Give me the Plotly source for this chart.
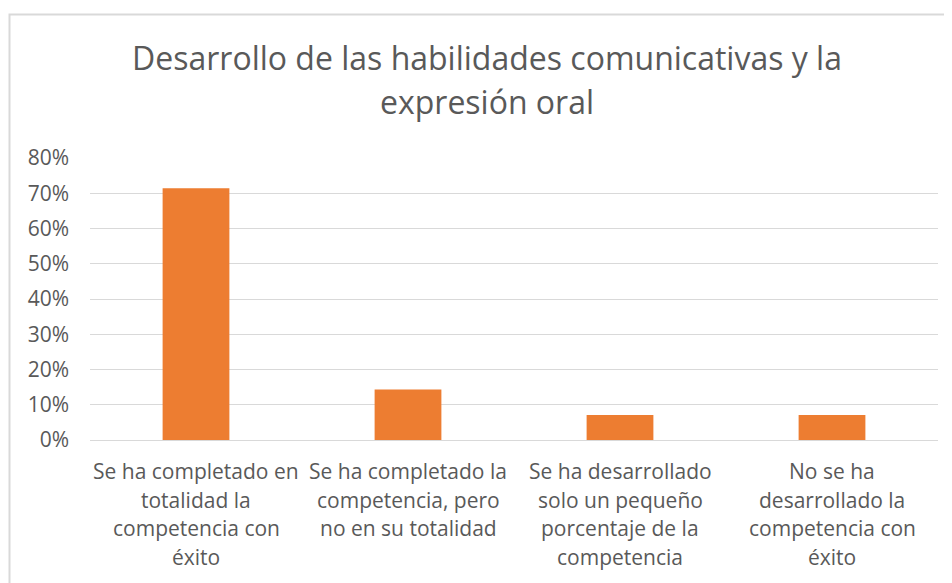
import plotly.graph_objects as go

# datos
categorias = [
    "Se ha completado en totalidad la competencia con éxito",
    "Se ha completado la competencia, pero no en su totalidad",
    "Se ha desarrollado solo un pequeño porcentaje de la competencia",
    "No se ha desarrollado la competencia con éxito",
]
etiquetas = [
    ["Se ha completado en", "totalidad la", "competencia con", "éxito"],
    ["Se ha completado la", "competencia, pero", "no en su totalidad"],
    ["Se ha desarrollado", "solo un pequeño", "porcentaje de la", "competencia"],
    ["No se ha", "desarrollado la", "competencia con", "éxito"],
]
valores = [0.714, 0.143, 0.071, 0.071]
titulo = ["Desarrollo de las habilidades comunicativas y la", "expresión oral"]

# the page body adds an 8px margin, so work in figure pixels = screen - 8
OFF = 8
W, H = 952 - OFF, 583 - OFF
L, T = 90 - OFF, 158 - OFF
R = W - (938 - OFF)
B = H - (440 - OFF)
gris = "#595959"
fuente = "Open Sans, Liberation Sans, sans-serif"

plot_h = H - T - B
plot_w = W - L - R


def py(y):  # screen pixel -> paper y
    return (H - B - (y - OFF)) / plot_h


def px_(x):
    return (x - OFF - L) / plot_w


fig = go.Figure(go.Bar(x=categorias, y=valores, marker_color="#ED7D31",
                       marker_line_width=0))

anots = []
for cat, lineas in zip(categorias, etiquetas):
    for i, linea in enumerate(lineas):
        anots.append(dict(x=cat, xref="x", y=py(471 + i * 28.5), yref="paper",
                          text=linea, showarrow=False, yanchor="middle",
                          font=dict(size=21, color=gris, family=fuente)))
for i, linea in enumerate(titulo):
    anots.append(dict(x=px_(487), xref="paper", y=py(57 + i * 45), yref="paper",
                      text=linea, showarrow=False, yanchor="middle",
                      font=dict(size=32, color=gris, family=fuente)))

fig.update_layout(
    width=W, height=H,
    margin=dict(l=L, r=R, t=T, b=B),
    plot_bgcolor="white", paper_bgcolor="white",
    bargap=0.685,
    showlegend=False,
    annotations=anots,
    shapes=[dict(type="rect", xref="paper", yref="paper",
                 x0=px_(9.5), x1=px_(980), y0=py(620), y1=py(14.5),
                 line=dict(color="#D9D9D9", width=2), layer="below")],
)
fig.update_xaxes(showticklabels=False, showline=True, linecolor="#D9D9D9",
                 linewidth=1, showgrid=False, ticks="")
fig.update_yaxes(range=[0, 0.8], dtick=0.1, tickformat=".0%",
                 showgrid=True, gridcolor="#D9D9D9", gridwidth=1,
                 zeroline=False, ticks="", ticklabelstandoff=20,
                 tickfont=dict(size=21, color=gris, family=fuente))

fig.write_html("out.html")
